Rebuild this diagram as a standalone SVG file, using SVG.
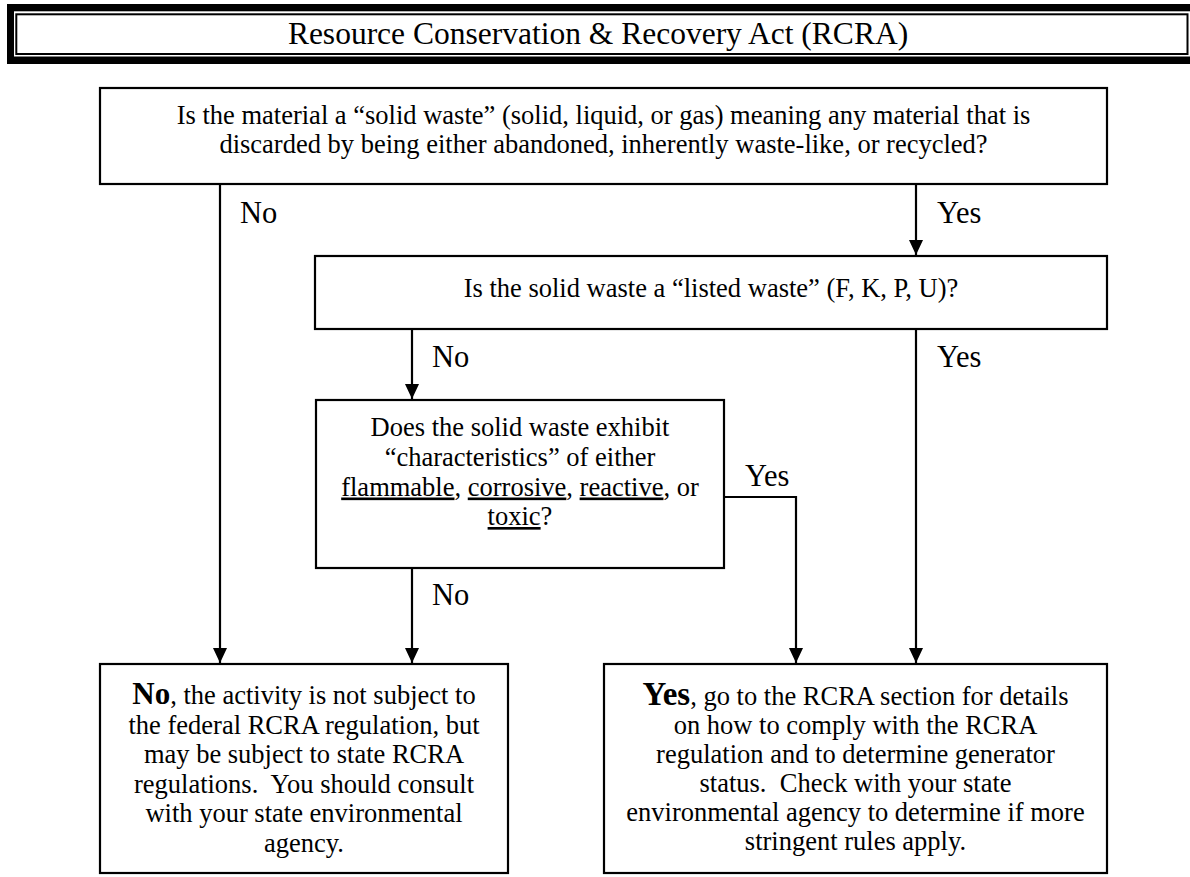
<svg xmlns="http://www.w3.org/2000/svg" width="1190" height="877" viewBox="0 0 1190 877">
  <style>
    .box { fill: #ffffff; stroke: #000000; stroke-width: 2.2; }
    .t { font-family: "Liberation Serif", "Times New Roman", serif; font-size: 26.5px; fill: #000000; text-anchor: middle; }
    .lbl { font-family: "Liberation Serif", "Times New Roman", serif; font-size: 30.5px; fill: #000000; }
    .title { font-family: "Liberation Serif", "Times New Roman", serif; font-size: 31.5px; fill: #000000; text-anchor: middle; }
    .b { font-weight: bold; font-size: 31px; }
    .by { font-weight: bold; font-size: 33px; }
    .u { text-decoration: underline; }
    .conn { fill: none; stroke: #000000; stroke-width: 2.2; }
  </style>
  <defs>
    <marker id="arrow" markerUnits="userSpaceOnUse" markerWidth="16" markerHeight="16" viewBox="0 0 16 16" refX="15" refY="8" orient="auto">
      <path d="M0,1 L15,8 L0,15 Z" fill="#000000"/>
    </marker>
  </defs>
  <rect x="0" y="0" width="1190" height="877" fill="#ffffff"/>

  <g id="header">
    <rect x="7" y="4" width="1200" height="60" fill="#000000"/>
    <rect x="14" y="11.3" width="1200" height="45.2" fill="#ffffff"/>
    <rect x="16.3" y="14.3" width="1171.2" height="39.7" fill="none" stroke="#000000" stroke-width="2"/>
    <text class="title" x="598" y="44">Resource Conservation &amp; Recovery Act (RCRA)</text>
  </g>

  <g id="connectors">
    <path class="conn" d="M220,184 L220,663" marker-end="url(#arrow)"/>
    <path class="conn" d="M916,184 L916,255" marker-end="url(#arrow)"/>
    <path class="conn" d="M412,329 L412,399" marker-end="url(#arrow)"/>
    <path class="conn" d="M916,329 L916,663" marker-end="url(#arrow)"/>
    <path class="conn" d="M412,568 L412,663" marker-end="url(#arrow)"/>
    <path class="conn" d="M724,497 L796,497 L796,663" marker-end="url(#arrow)"/>
    <text class="lbl" x="240" y="223">No</text>
    <text class="lbl" x="937" y="223">Yes</text>
    <text class="lbl" x="432" y="367">No</text>
    <text class="lbl" x="937" y="367">Yes</text>
    <text class="lbl" x="745" y="486">Yes</text>
    <text class="lbl" x="432" y="605">No</text>
  </g>

  <g id="q1">
    <rect class="box" x="100" y="88" width="1007" height="96"/>
    <text class="t" x="603.5" y="123.5">Is the material a “solid waste” (solid, liquid, or gas) meaning any material that is</text>
    <text class="t" x="603.5" y="153">discarded by being either abandoned, inherently waste-like, or recycled?</text>
  </g>

  <g id="q2">
    <rect class="box" x="315" y="256" width="792" height="73"/>
    <text class="t" x="711" y="297">Is the solid waste a “listed waste” (F, K, P, U)?</text>
  </g>

  <g id="q3">
    <rect class="box" x="316" y="400" width="408" height="168"/>
    <text class="t" x="520" y="436">Does the solid waste exhibit</text>
    <text class="t" x="520" y="466">“characteristics” of either</text>
    <text class="t" x="520" y="495.5"><tspan class="u">flammable</tspan>, <tspan class="u">corrosive</tspan>, <tspan class="u">reactive</tspan>, or</text>
    <text class="t" x="520" y="525"><tspan class="u">toxic</tspan>?</text>
  </g>

  <g id="result-no">
    <rect class="box" x="100" y="664" width="408" height="209"/>
    <text class="t" x="304" y="704" xml:space="preserve"><tspan class="b">No</tspan>, the activity is not subject to</text>
    <text class="t" x="304" y="733.5" xml:space="preserve">the federal RCRA regulation, but</text>
    <text class="t" x="304" y="763" xml:space="preserve">may be subject to state RCRA</text>
    <text class="t" x="304" y="792.5" xml:space="preserve">regulations.  You should consult</text>
    <text class="t" x="304" y="822" xml:space="preserve">with your state environmental</text>
    <text class="t" x="304" y="851.5" xml:space="preserve">agency.</text>
  </g>

  <g id="result-yes">
    <rect class="box" x="604" y="664" width="503" height="209"/>
    <text class="t" x="855.5" y="705" xml:space="preserve"><tspan class="by">Yes</tspan>, go to the RCRA section for details</text>
    <text class="t" x="855.5" y="734" xml:space="preserve">on how to comply with the RCRA</text>
    <text class="t" x="855.5" y="763" xml:space="preserve">regulation and to determine generator</text>
    <text class="t" x="855.5" y="792" xml:space="preserve">status.  Check with your state</text>
    <text class="t" x="855.5" y="821" xml:space="preserve">environmental agency to determine if more</text>
    <text class="t" x="855.5" y="850" xml:space="preserve">stringent rules apply.</text>
  </g>
</svg>
